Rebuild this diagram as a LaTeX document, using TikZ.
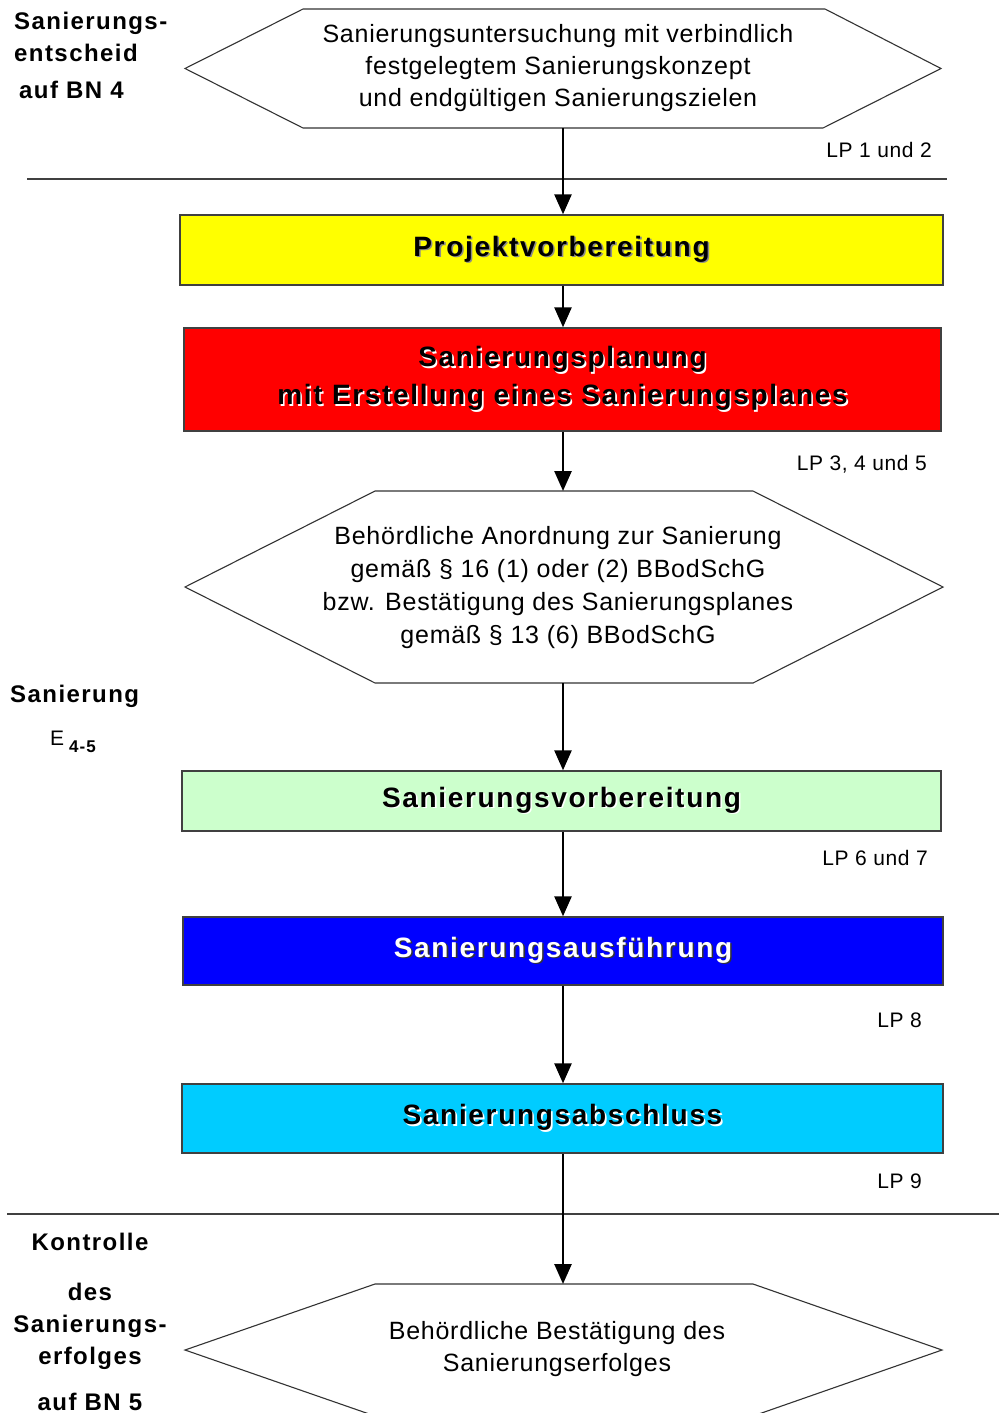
\documentclass[tikz,border=0pt]{standalone}
\usepackage{fontspec}
\setmainfont{Liberation Sans}[LetterSpace=3]
\newfontfamily\bfam{Liberation Sans}[LetterSpace=6]
\usetikzlibrary{arrows.meta,calc}
\definecolor{cyel}{HTML}{FFFF00}
\definecolor{cred}{HTML}{FF0000}
\definecolor{cgreen}{HTML}{CCFFCC}
\definecolor{cblue}{HTML}{0000FF}
\definecolor{ccyan}{HTML}{00CCFF}
\newcommand\shtxt[2]{\leavevmode\rlap{\kern1.6pt\raisebox{-1.6pt}{\textcolor{#1}{#2}}}#2}
\begin{document}
\begin{tikzpicture}[x=1pt,y=-1pt,
  box/.style={draw=black!75, line width=1.4pt, inner sep=0pt, align=center,
    font=\bfam\bfseries\fontsize{28}{38}\selectfont},
  hexline/.style={draw=black!80, line width=1.1pt, fill=white},
  hextext/.style={inner sep=0pt, align=center, font=\fontsize{25}{32}\selectfont},
  lp/.style={inner sep=0pt, anchor=base east, font=\fontsize{21}{21}\selectfont},
  lbl/.style={inner sep=0pt, font=\bfam\bfseries\fontsize{24}{24}\selectfont},
  arr/.style={line width=2.6pt, -{Triangle[length=20pt,width=17pt]}},
  sep/.style={draw=black!75, line width=1.6pt}]
\useasboundingbox (0,0) rectangle (999,1413);
\clip (0,0) rectangle (999,1413);
\fill[white] (0,0) rectangle (999,1413);

% separators
\draw[sep] (27,179) -- (947,179);
\draw[sep] (7,1214) -- (999,1214);

% hexagon 1
\coordinate (h1n) at (563,9);
\coordinate (h1s) at (563,128);
\draw[hexline] (303,9) -- (825,9) -- (941,68.5) -- (823,128) -- (303,128) -- (185,68.5) -- cycle;
\node[hextext] (h1) at (558,68) {Sanierungsuntersuchung mit verbindlich\\festgelegtem Sanierungskonzept\\und endgültigen Sanierungszielen};

% boxes
\node[box, fill=cyel, minimum width=763pt, minimum height=70pt] (p1) at (561.5,250)
  {\shtxt{black!45}{Projektvorbereitung}};
\node[box, fill=cred, minimum width=757pt, minimum height=103pt] (p2) at (562.5,379.5)
  {\shtxt{white}{Sanierungsplanung}\\\shtxt{white}{mit Erstellung eines Sanierungsplanes}};

% hexagon 2
\coordinate (h2n) at (563,491);
\coordinate (h2s) at (563,683);
\draw[hexline] (375,491) -- (753,491) -- (943,587) -- (753,683) -- (375,683) -- (185,587) -- cycle;
\node[hextext, font=\fontsize{25}{33}\selectfont] (h2) at (558,588)
  {Behördliche Anordnung zur Sanierung\\gemäß § 16 (1) oder (2) BBodSchG\\bzw. Bestätigung des Sanierungsplanes\\gemäß § 13 (6) BBodSchG};

\node[box, fill=cgreen, minimum width=759pt, minimum height=60pt] (p3) at (561.5,801)
  {\shtxt{white}{Sanierungsvorbereitung}};
\node[box, fill=cblue, text=white, minimum width=760pt, minimum height=68pt] (p4) at (563,951)
  {\shtxt{black!80}{Sanierungsausführung}};
\node[box, fill=ccyan, minimum width=761pt, minimum height=69pt] (p5) at (562.5,1118.5)
  {\shtxt{white}{Sanierungsabschluss}};

% hexagon 3
\coordinate (h3n) at (563,1284);
\draw[hexline] (375,1284) -- (753,1284) -- (942,1350) -- (753,1416) -- (375,1416) -- (185,1350) -- cycle;
\node[hextext] (h3) at (557,1349) {Behördliche Bestätigung des\\Sanierungserfolges};

% connectors
\draw[arr] (h1s) -- (h1s |- p1.north);
\draw[arr] (p1.south -| h1s) -- (h1s |- p2.north);
\draw[arr] (p2.south -| h2n) -- (h2n);
\draw[arr] (h2s) -- (h2s |- p3.north);
\draw[arr] (p3.south -| h2s) -- (h2s |- p4.north);
\draw[arr] (p4.south -| h2s) -- (h2s |- p5.north);
\draw[arr] (p5.south -| h3n) -- (h3n);

% LP labels
\node[lp] (lp1) at (932,157.5) {LP 1 und 2};
\node[lp] (lp2) at (927,470.5) {LP 3, 4 und 5};
\node[lp] (lp3) at (928,865.5) {LP 6 und 7};
\node[lp] (lp4) at (922,1027.5) {LP 8};
\node[lp] (lp5) at (922,1188.5) {LP 9};

% left labels
\node[lbl, anchor=base west] (l1a) at (14,30) {Sanierungs-};
\node[lbl, anchor=base west] (l1b) at (14,62) {entscheid};
\node[lbl, anchor=base west] (l1c) at (19,98) {auf BN 4};
\node[lbl, anchor=base west] (l2a) at (10,702) {Sanierung};
\node[inner sep=0pt, anchor=base west] (l2b) at (50,745)
  {{\fontsize{21}{21}\selectfont E}\hspace{5pt}{\bfam\bfseries\fontsize{17}{17}\selectfont\raisebox{-7pt}{4-5}}};
\node[lbl, anchor=base] (l3a) at (90,1250) {Kontrolle};
\node[lbl, anchor=base] (l3b) at (90,1300) {des};
\node[lbl, anchor=base] (l3c) at (90,1332) {Sanierungs-};
\node[lbl, anchor=base] (l3d) at (90,1364) {erfolges};
\node[lbl, anchor=base] (l3e) at (90,1410) {auf BN 5};
\end{tikzpicture}
\end{document}
